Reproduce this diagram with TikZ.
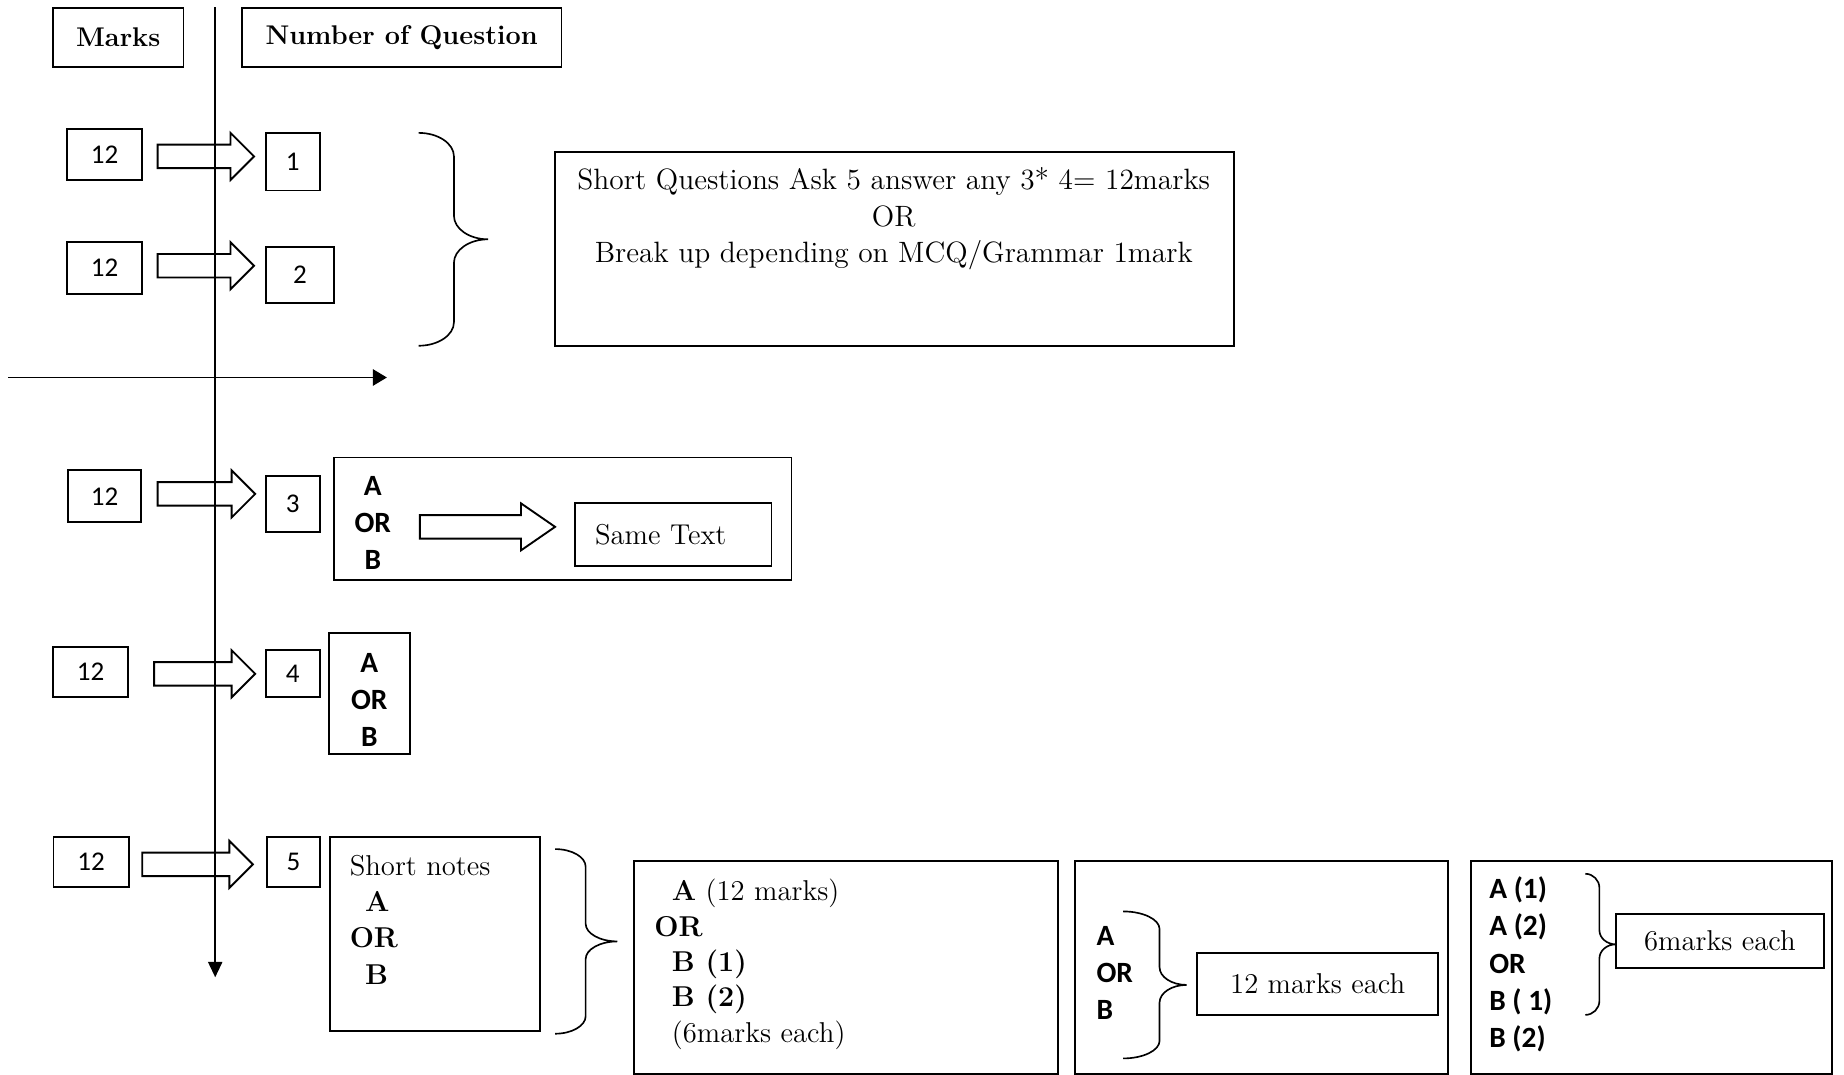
\documentclass[tikz,border=0pt]{standalone}
\usepackage{fontspec}
\newfontfamily\calibri{Carlito}
\usetikzlibrary{arrows.meta,calc}

% hollow block arrow: start, tip, head length
\newcommand{\fatarrow}[3]{%
  \draw[line width=0.8pt] ($(#1)+(0,10)$) -- ($(#2)+(-#3,10)$) -- ($(#2)+(-#3,20)$) -- (#2)
    -- ($(#2)+(-#3,-20)$) -- ($(#2)+(-#3,-10)$) -- ($(#1)+(0,-10)$) -- cycle;}

% right curly brace: top, bottom, arm, tip, curl
\newcommand{\wordbrace}[5]{%
  \draw[line width=0.7pt] (#1) .. controls ($(#1)+(0.55*#3,0)$) and ($(#1)+(#3,0.45*#5)$) .. ($(#1)+(#3,#5)$)
    -- ($(#1)!0.5!(#2)+(#3,-#5)$) .. controls ($(#1)!0.5!(#2)+(#3,-0.45*#5)$) and ($(#1)!0.5!(#2)+(#3+0.45*#4-0.45*#3,0)$) .. ($(#1)!0.5!(#2)+(#4,0)$)
    .. controls ($(#1)!0.5!(#2)+(#3+0.45*#4-0.45*#3,0)$) and ($(#1)!0.5!(#2)+(#3,0.45*#5)$) .. ($(#1)!0.5!(#2)+(#3,#5)$)
    -- ($(#2)+(#3,-#5)$) .. controls ($(#2)+(#3,-0.45*#5)$) and ($(#2)+(0.55*#3,0)$) .. (#2);}

\begin{document}
\begin{tikzpicture}[x=0.5pt,y=-0.5pt,
    box/.style={draw,line width=0.8pt,inner sep=0pt},
    num/.style={box,font=\fontsize{11.5}{14}\selectfont\calibri},
    head/.style={box,font=\fontsize{11.5}{14}\selectfont\bfseries},
    txt/.style={font=\fontsize{12.2}{15.5}\selectfont,inner sep=0pt},
    cb/.style={font=\fontsize{12.5}{15.75}\selectfont\calibri\bfseries,inner sep=0pt}]

\useasboundingbox (0,0) rectangle (1568,914);

% headings
\node[head,minimum width=55.5pt,minimum height=25pt] (marks) at (100.5,32) {Marks};
\node[head,minimum width=136pt,minimum height=25pt] (numq) at (341.5,32) {Number of Question};

% the two axes
\coordinate (vtop) at (183,6);
\coordinate (vbot) at (183,831);
\coordinate (hleft) at (7,321);
\coordinate (hright) at (329,321);
\draw[line width=0.7pt,-{Triangle[length=6.5pt,width=6pt]}] (vtop) -- (vbot);
\draw[line width=0.7pt,-{Triangle[length=6pt,width=7pt]}] (hleft) -- (hright);

% questions 1 and 2
\node[num,minimum width=32pt,minimum height=21.5pt] (m1) at (89,131.5) {12};
\node[num,minimum width=23pt,minimum height=24.5pt] (q1) at (249,137.5) {1};
\coordinate (a1s) at (134,133);
\coordinate (a1t) at (216,133);
\fatarrow{a1s}{a1t}{20}

\node[num,minimum width=32pt,minimum height=22pt] (m2) at (89,228) {12};
\node[num,minimum width=29pt,minimum height=24pt] (q2) at (255,234) {2};
\coordinate (a2s) at (134,226);
\coordinate (a2t) at (216,226);
\fatarrow{a2s}{a2t}{20}

\coordinate (br1a) at (356,113);
\coordinate (br1b) at (356,294);
\wordbrace{br1a}{br1b}{30}{59}{20}

\node[box,minimum width=288.5pt,minimum height=82.5pt] (info) at (760.5,211.5) {};
\node[txt,align=center,font=\fontsize{12.5}{15.5}\selectfont] (infotxt) at (760,186)
  {Short Questions Ask 5 answer any 3* 4= 12marks\\OR\\Break up depending on MCQ/Grammar 1mark};

% question 3
\node[num,minimum width=31pt,minimum height=22pt] (m3) at (89,422) {12};
\node[num,minimum width=23pt,minimum height=23.5pt] (q3) at (249,428.5) {3};
\coordinate (a3s) at (134,420);
\coordinate (a3t) at (217,420);
\fatarrow{a3s}{a3t}{20}

\node[box,minimum width=194.5pt,minimum height=52pt] (q3box) at (478.5,441) {};
\node[cb,align=center] (q3ab) at (317,445) {A\\OR\\B};
\coordinate (a6s) at (357,448);
\coordinate (a6t) at (472,448);
\fatarrow{a6s}{a6t}{29}
\node[box,txt,minimum width=83.5pt,minimum height=26.5pt,inner xsep=8.5pt,text width=66.5pt,align=left] (same) at (572.5,454.5) {Same Text};

% question 4
\node[num,minimum width=32pt,minimum height=21.5pt] (m4) at (77,571.5) {12};
\node[num,minimum width=23pt,minimum height=20pt] (q4) at (249,573) {4};
\coordinate (a4s) at (131,573);
\coordinate (a4t) at (217,573);
\fatarrow{a4s}{a4t}{20}
\node[box,minimum width=34.5pt,minimum height=51.5pt] (q4box) at (314.5,589.5) {};
\node[cb,align=center] (q4ab) at (314,595) {A\\OR\\B};

% question 5
\node[num,minimum width=32pt,minimum height=21pt] (m5) at (77.5,733) {12};
\node[num,minimum width=22.5pt,minimum height=21pt] (q5) at (249.5,733) {5};
\coordinate (a5s) at (121,735);
\coordinate (a5t) at (215,735);
\fatarrow{a5s}{a5t}{20}

\node[box,minimum width=89.5pt,minimum height=82.5pt] (notes) at (370,794.5) {};
\node[txt,align=left,anchor=west] (notestxt) at (297,782)
  {Short notes\\\hspace*{6.5pt}\textbf{A}\\\textbf{OR}\\\hspace*{6.5pt}\textbf{B}};

\coordinate (br2a) at (472,722);
\coordinate (br2b) at (472,879);
\wordbrace{br2a}{br2b}{26}{53}{15}

\node[box,minimum width=180.5pt,minimum height=90.5pt] (opt1) at (719.5,822.5) {};
\node[txt,align=left,anchor=west,font=\fontsize{12.2}{15}\selectfont] (opt1txt) at (556,820)
  {\hspace*{7.5pt}\textbf{A} (12 marks)\\\textbf{OR}\\\hspace*{7.5pt}\textbf{B (1)}\\\hspace*{7.5pt}\textbf{B (2)}\\\hspace*{7.5pt}(6marks each)};

\node[box,minimum width=158.5pt,minimum height=90.5pt] (opt2) at (1072.5,822.5) {};
\node[cb,align=left,anchor=west] (opt2txt) at (932,827) {A\\OR\\B};
\coordinate (br3a) at (955,775);
\coordinate (br3b) at (955,900);
\wordbrace{br3a}{br3b}{31}{54}{15}
\node[box,txt,minimum width=102.5pt,minimum height=26.5pt] (each12) at (1120.5,836.5) {12 marks each};

\node[box,minimum width=153.5pt,minimum height=90.5pt] (opt3) at (1404.5,822.5) {};
\node[cb,align=left,anchor=west] (opt3txt) at (1266,820) {A (1)\\A (2)\\OR\\B ( 1)\\B (2)};
\coordinate (br4a) at (1348,743);
\coordinate (br4b) at (1348,863);
\wordbrace{br4a}{br4b}{12}{26}{12}
\node[box,txt,minimum width=88.5pt,minimum height=23pt] (each6) at (1462.5,800) {6marks each};

\end{tikzpicture}
\end{document}
